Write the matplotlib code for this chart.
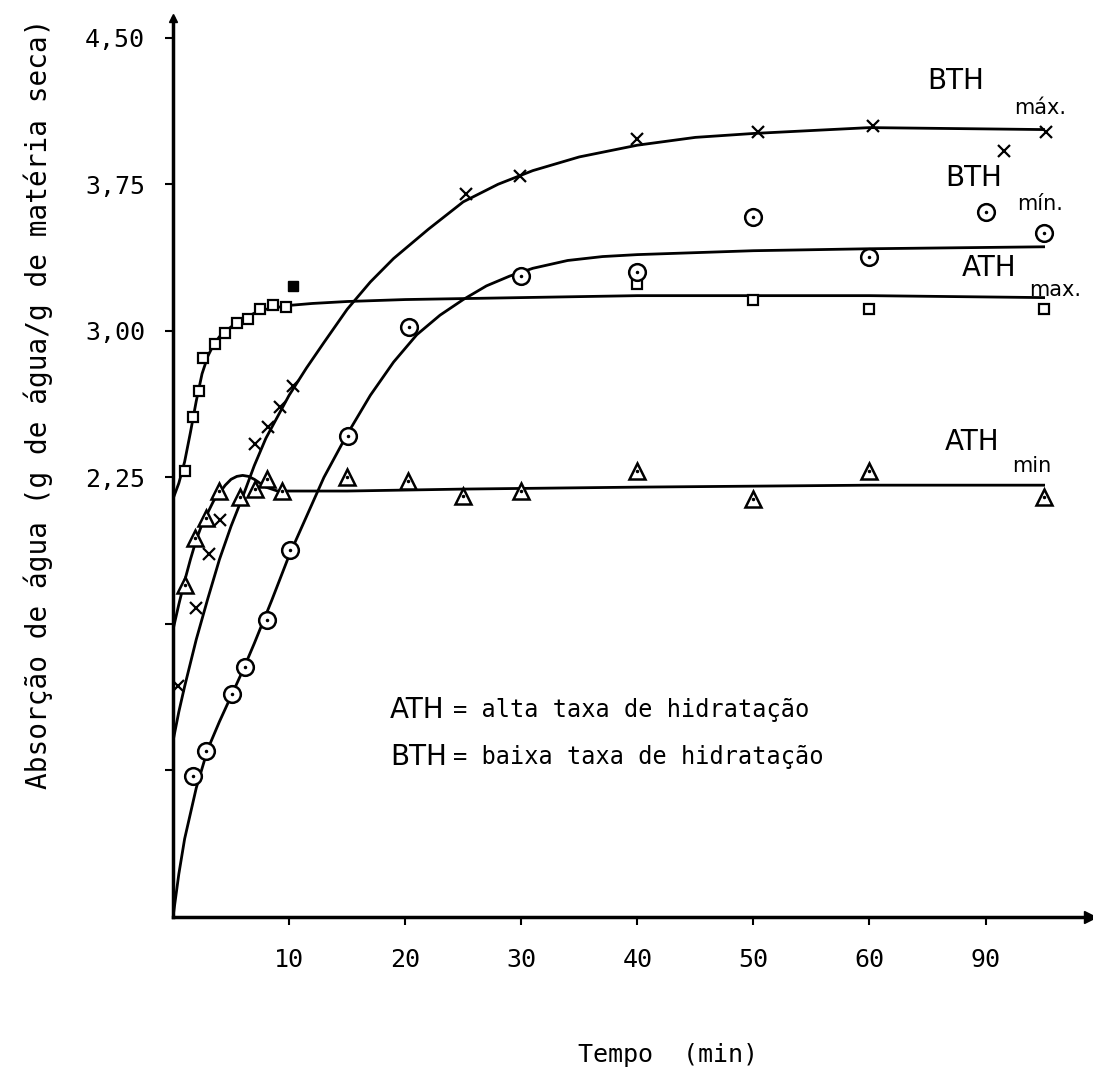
import matplotlib.pyplot as plt

# x values are positions on the drawn time axis (the "90" tick sits at 70)
tick_pos = [10, 20, 30, 40, 50, 60, 70]
tick_lab = ['10', '20', '30', '40', '50', '60', '90']
ytick_pos = [0.75, 1.50, 2.25, 3.00, 3.75, 4.50]
ytick_lab = ['', '', '2,25', '3,00', '3,75', '4,50']

# measured points
ath_max_x = [1.0, 1.7, 2.2, 2.6, 3.6, 4.5, 5.5, 6.5, 7.5, 8.6, 9.7, 40, 50, 60, 75]
ath_max_y = [2.28, 2.56, 2.69, 2.86, 2.93, 2.99, 3.04, 3.06, 3.11, 3.13, 3.12, 3.24, 3.16, 3.11, 3.11]
ath_max_solid_x = [10.3]
ath_max_solid_y = [3.23]

ath_min_x = [1.0, 1.9, 2.8, 4.0, 5.8, 7.1, 8.1, 9.4, 15, 20.2, 25, 30, 40, 50, 60, 75]
ath_min_y = [1.70, 1.94, 2.04, 2.18, 2.15, 2.19, 2.24, 2.18, 2.25, 2.23, 2.155, 2.18, 2.28, 2.14, 2.28, 2.15]

bth_min_x = [1.7, 2.8, 5.1, 6.2, 8.1, 10.1, 15.1, 20.3, 30, 40, 50, 60, 70, 75]
bth_min_y = [0.72, 0.85, 1.14, 1.28, 1.52, 1.88, 2.46, 3.02, 3.28, 3.30, 3.58, 3.38, 3.61, 3.50]

bth_max_x = [0.4, 2.0, 3.1, 4.05, 7.1, 8.2, 9.2, 10.3, 25.2, 29.9, 40, 50.4, 60.3, 71.6, 75.2]
bth_max_y = [1.18, 1.58, 1.86, 2.03, 2.42, 2.51, 2.61, 2.72, 3.70, 3.79, 3.98, 4.02, 4.05, 3.92, 4.02]

# hand drawn fitted curves
ath_max_cx = [0, 0.5, 1, 1.5, 2, 2.5, 3, 3.5, 4, 5, 6, 7, 8, 10, 12, 15, 20, 30, 40, 50, 60, 75]
ath_max_cy = [2.14, 2.22, 2.33, 2.48, 2.64, 2.78, 2.87, 2.93, 2.97, 3.02, 3.06, 3.09, 3.11, 3.13,
              3.14, 3.15, 3.16, 3.17, 3.18, 3.18, 3.18, 3.17]

ath_min_cx = [0, 0.5, 1, 1.5, 2, 2.5, 3, 3.5, 4, 4.5, 5, 5.5, 6, 6.5, 7, 7.5, 8, 8.5, 9, 10,
              15, 25, 40, 60, 75]
ath_min_cy = [1.47, 1.60, 1.72, 1.83, 1.93, 2.01, 2.07, 2.13, 2.17, 2.21, 2.24, 2.255, 2.26,
              2.255, 2.24, 2.22, 2.20, 2.19, 2.18, 2.18, 2.18, 2.19, 2.20, 2.21, 2.21]

bth_max_cx = [0, 0.5, 1, 2, 3, 4, 5, 6, 7, 8, 9, 10, 11.5, 13, 15, 17, 19, 22, 25, 28, 31,
              35, 40, 45, 50, 60, 75]
bth_max_cy = [0.90, 1.05, 1.18, 1.42, 1.63, 1.83, 2.00, 2.15, 2.31, 2.45, 2.56, 2.67, 2.81,
              2.94, 3.11, 3.25, 3.37, 3.52, 3.66, 3.75, 3.82, 3.89, 3.95, 3.99, 4.01, 4.04, 4.03]

bth_min_cx = [0, 0.5, 1, 2, 3, 4, 5, 6, 7, 8.5, 10, 11.5, 13, 15, 17, 19, 21, 23, 25, 27, 29,
              31, 34, 37, 40, 50, 60, 75]
bth_min_cy = [0, 0.22, 0.40, 0.66, 0.86, 1.00, 1.13, 1.26, 1.40, 1.62, 1.85, 2.05, 2.25, 2.47,
              2.67, 2.84, 2.98, 3.08, 3.16, 3.23, 3.28, 3.32, 3.36, 3.38, 3.39, 3.41, 3.42, 3.43]

mono = 'DejaVu Sans Mono'
sans = 'DejaVu Sans'

fig = plt.figure(figsize=(10.93, 10.70), dpi=100)
ax = fig.add_axes([0.1583, 0.143, 0.839, 0.840])

lw = 2.0
for cx, cy in [(ath_max_cx, ath_max_cy), (ath_min_cx, ath_min_cy),
               (bth_max_cx, bth_max_cy), (bth_min_cx, bth_min_cy)]:
    ax.plot(cx, cy, color='black', lw=lw, solid_joinstyle='round')

ax.plot(ath_max_x, ath_max_y, 's', ms=7, mfc='white', mec='black', mew=1.6, ls='none')
ax.plot(ath_max_solid_x, ath_max_solid_y, 's', ms=7, color='black', ls='none')
ax.plot(ath_min_x, ath_min_y, '^', ms=11, mfc='white', mec='black', mew=1.8, ls='none')
ax.plot(ath_min_x, ath_min_y, '.', ms=3, color='black', ls='none')
ax.plot(bth_min_x, bth_min_y, 'o', ms=12, mfc='white', mec='black', mew=1.8, ls='none')
ax.plot(bth_min_x, bth_min_y, '.', ms=3, color='black', ls='none')
ax.plot(bth_max_x, bth_max_y, 'x', ms=8, color='black', mew=1.6, ls='none')

ax.set_xlim(0, 79)
ax.set_ylim(0, 4.60)

for s in ['top', 'right']:
    ax.spines[s].set_visible(False)
for s in ['left', 'bottom']:
    ax.spines[s].set_linewidth(2.5)

# arrow heads at the ends of both axes
ax.plot(1, 0, '>k', ms=8, transform=ax.get_yaxis_transform(), clip_on=False)
ax.plot(0, 1, '^k', ms=6, transform=ax.get_xaxis_transform(), clip_on=False)

ax.set_xticks(tick_pos)
ax.set_xticklabels(tick_lab, family=mono, fontsize=18)
ax.set_yticks(ytick_pos)
ax.set_yticklabels(ytick_lab, family=mono, fontsize=18)
ax.tick_params(axis='x', direction='out', length=6, width=1.5, pad=16)
ax.tick_params(axis='y', direction='out', length=6, width=1.5, pad=14)

# curve labels
ax.text(67.4, 4.28, 'BTH', family=sans, fontsize=20, ha='center', va='center')
ax.text(74.7, 4.14, 'máx.', family=sans, fontsize=15, ha='center', va='center')
ax.text(69.0, 3.78, 'BTH', family=sans, fontsize=20, ha='center', va='center')
ax.text(74.7, 3.65, 'mín.', family=sans, fontsize=15, ha='center', va='center')
ax.text(70.3, 3.32, 'ATH', family=sans, fontsize=20, ha='center', va='center')
ax.text(76.0, 3.21, 'max.', family=sans, fontsize=15, ha='center', va='center')
ax.text(68.8, 2.43, 'ATH', family=sans, fontsize=20, ha='center', va='center')
ax.text(74.0, 2.31, 'min', family=sans, fontsize=15, ha='center', va='center')

# key
ax.text(18.7, 1.06, 'ATH', family=sans, fontsize=20, ha='left', va='center')
ax.text(24.1, 1.06, '= alta taxa de hidratação', family=mono, fontsize=17, ha='left', va='center')
ax.text(18.7, 0.82, 'BTH', family=sans, fontsize=20, ha='left', va='center')
ax.text(24.1, 0.82, '= baixa taxa de hidratação', family=mono, fontsize=17, ha='left', va='center')

fig.text(0.035, 0.623, 'Absorção de água (g de água/g de matéria seca)', family=mono,
         fontsize=20, rotation=90, ha='center', va='center')
fig.text(0.611, 0.014, 'Tempo  (min)', family=mono, fontsize=18, ha='center', va='center')

fig.savefig('out.png', dpi=100)
